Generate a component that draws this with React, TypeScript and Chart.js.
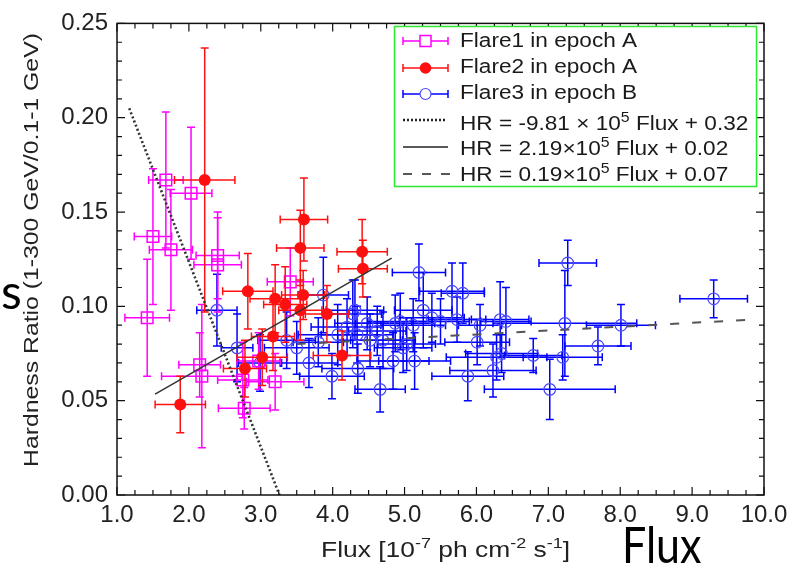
import React, { useEffect, useRef } from 'react';
import { Chart, registerables } from 'chart.js';
Chart.register(...registerables);

// ---------- DATA ----------
const flare1X = [1.68, 2.03, 1.50, 1.75, 2.40, 2.40, 1.42, 2.15, 2.18, 2.77, 2.75, 2.97, 3.20, 3.41];
const flare1Y = [0.167, 0.160, 0.137, 0.130, 0.127, 0.122, 0.094, 0.069, 0.063, 0.046, 0.061, 0.071, 0.060, 0.113];
const flare1XErr = [0.24, 0.29, 0.26, 0.30, 0.30, 0.33, 0.31, 0.29, 0.56, 0.36, 0.35, 0.30, 0.40, 0.32];
const flare1YErr = [0.036, 0.035, 0.036, 0.032, 0.023, 0.025, 0.031, 0.017, 0.038, 0.011, 0.020, 0.015, 0.015, 0.018];

const flare2X = [2.22, 3.60, 3.55, 4.41, 4.42, 1.88, 2.82, 3.20, 3.34, 3.59, 3.55, 3.92, 3.17, 3.02, 2.78, 4.13];
const flare2Y = [0.167, 0.146, 0.131, 0.129, 0.120, 0.048, 0.108, 0.104, 0.101, 0.106, 0.098, 0.096, 0.084, 0.073, 0.067, 0.074];
const flare2XErr = [0.42, 0.33, 0.33, 0.35, 0.34, 0.35, 0.35, 0.35, 0.30, 0.30, 0.30, 0.30, 0.30, 0.35, 0.30, 0.40];
const flare2YErr = [0.070, 0.022, 0.020, 0.017, 0.015, 0.015, 0.020, 0.018, 0.020, 0.013, 0.016, 0.015, 0.018, 0.015, 0.015, 0.013];

const flare3X = [2.39, 2.67, 2.99, 3.36, 3.50, 3.67, 3.99, 4.35, 4.66, 4.84, 4.28, 4.70, 3.87, 5.20, 7.27, 9.30,
  5.66, 5.81, 5.26, 7.23, 8.01, 7.69, 7.20, 6.79, 7.02, 5.88, 6.23, 6.28, 6.35, 6.01, 6.33, 6.41, 6.05, 5.14,
  5.38, 5.73, 5.03, 4.94, 4.31, 4.34, 4.07, 4.52, 4.87, 4.98, 4.20, 4.48, 4.62, 5.12, 5.50, 3.80];
const flare3Y = [0.098, 0.078, 0.070, 0.082, 0.078, 0.070, 0.063, 0.067, 0.056, 0.071, 0.096, 0.082, 0.106, 0.118, 0.123, 0.104,
  0.108, 0.107, 0.098, 0.091, 0.090, 0.079, 0.073, 0.074, 0.056, 0.063, 0.066, 0.073, 0.075, 0.081, 0.093, 0.092, 0.090, 0.071,
  0.094, 0.093, 0.080, 0.092, 0.098, 0.085, 0.085, 0.082, 0.091, 0.078, 0.089, 0.091, 0.087, 0.090, 0.092, 0.081];
const flare3XErr = [0.28, 0.22, 0.30, 0.40, 0.45, 0.40, 0.45, 0.50, 0.35, 0.50, 0.40, 0.45, 0.35, 0.37, 0.40, 0.47,
  0.45, 0.30, 0.40, 1.00, 0.48, 0.46, 0.55, 0.40, 0.91, 0.50, 0.60, 0.70, 0.50, 0.45, 0.40, 0.35, 0.30, 0.50,
  0.45, 0.40, 0.40, 0.45, 0.40, 0.50, 0.55, 0.45, 0.55, 0.40, 0.50, 0.45, 0.40, 0.45, 0.40, 0.35];
const flare3YErr = [0.019, 0.018, 0.015, 0.015, 0.014, 0.013, 0.012, 0.013, 0.012, 0.015, 0.018, 0.015, 0.020, 0.015, 0.012, 0.010,
  0.015, 0.016, 0.020, 0.028, 0.011, 0.010, 0.012, 0.009, 0.016, 0.013, 0.014, 0.012, 0.010, 0.012, 0.020, 0.018, 0.011, 0.015,
  0.013, 0.012, 0.014, 0.015, 0.016, 0.015, 0.016, 0.014, 0.015, 0.013, 0.015, 0.014, 0.013, 0.014, 0.012, 0.013];

// fit lines: endpoints
const dottedFitX = [1.17, 3.26];
const dottedFitY = [0.205, 0.0];
const solidFitX = [1.53, 4.82];
const solidFitY = [0.0535, 0.1256];
const dashedFitX = [3.5, 9.85];
const dashedFitY = [0.080, 0.093];

const xTickValues = [1, 2, 3, 4, 5, 6, 7, 8, 9, 10];
const yTickValues = [0, 0.05, 0.1, 0.15, 0.2, 0.25];

const legendLabels = ['Flare1 in epoch A', 'Flare2 in epoch A', 'Flare3 in epoch B'];
const fitLabels = [
  [{ t: 'HR = -9.81 \u00d7 10' }, { t: '5', sup: true }, { t: ' Flux + 0.32' }],
  [{ t: 'HR = 2.19\u00d710' }, { t: '5', sup: true }, { t: ' Flux + 0.02' }],
  [{ t: 'HR = 0.19\u00d710' }, { t: '5', sup: true }, { t: ' Flux + 0.07' }],
];
const yTitle = 'Hardness Ratio (1-300 GeV/0.1-1 GeV)';
const xTitle = [{ t: 'Flux [10' }, { t: '-7', sup: true }, { t: ' ph cm' }, { t: '-2', sup: true }, { t: ' s' }, { t: '-1', sup: true }, { t: ']' }];

const FONT = '"Liberation Sans", Arial, Helvetica, sans-serif';
const MAGENTA = '#ff00ff';
const RED = '#ff1010';
const BLUE = '#0000ff';

type Seg = { t: string; sup?: boolean };

function richWidth(ctx: CanvasRenderingContext2D, segs: Seg[], size: number, sx: number) {
  let w = 0;
  for (const s of segs) {
    ctx.font = `${s.sup ? Math.round(size * 0.68) : size}px ${FONT}`;
    w += ctx.measureText(s.t).width * sx;
  }
  return w;
}
function drawRich(ctx: CanvasRenderingContext2D, segs: Seg[], x: number, y: number, size: number, sx: number) {
  let cx = x;
  for (const s of segs) {
    const fs = s.sup ? Math.round(size * 0.68) : size;
    ctx.font = `${fs}px ${FONT}`;
    ctx.save();
    ctx.translate(cx, s.sup ? y - size * 0.42 : y);
    ctx.scale(sx, 1);
    ctx.fillText(s.t, 0, 0);
    ctx.restore();
    cx += ctx.measureText(s.t).width * sx;
  }
  return cx - x;
}

function errBarSymbol(ctx: CanvasRenderingContext2D, x0: number, x1: number, y: number, color: string) {
  ctx.strokeStyle = color;
  ctx.lineWidth = 1.5;
  ctx.beginPath();
  ctx.moveTo(x0, y); ctx.lineTo(x1, y);
  ctx.moveTo(x0, y - 4); ctx.lineTo(x0, y + 4);
  ctx.moveTo(x1, y - 4); ctx.lineTo(x1, y + 4);
  ctx.stroke();
}

const errorBarPlugin = {
  id: 'errorBars',
  beforeDatasetDraw(chart: any, args: any) {
    const ds = chart.data.datasets[args.index];
    if (!ds.errX) return;
    const { ctx, chartArea } = chart;
    const xs = chart.scales.x, ys = chart.scales.y;
    ctx.save();
    ctx.beginPath();
    ctx.rect(chartArea.left, chartArea.top, chartArea.right - chartArea.left, chartArea.bottom - chartArea.top);
    ctx.clip();
    ctx.strokeStyle = ds.barColor;
    ctx.lineWidth = 1.5;
    ds.data.forEach((p: any, i: number) => {
      const px = xs.getPixelForValue(p.x), py = ys.getPixelForValue(p.y);
      const x0 = xs.getPixelForValue(p.x - ds.errX[i]), x1 = xs.getPixelForValue(p.x + ds.errX[i]);
      const y0 = ys.getPixelForValue(p.y - ds.errY[i]), y1 = ys.getPixelForValue(p.y + ds.errY[i]);
      const c = 4;
      ctx.beginPath();
      ctx.moveTo(x0, py); ctx.lineTo(x1, py);
      ctx.moveTo(x0, py - c); ctx.lineTo(x0, py + c);
      ctx.moveTo(x1, py - c); ctx.lineTo(x1, py + c);
      ctx.moveTo(px, y0); ctx.lineTo(px, y1);
      ctx.moveTo(px - c, y0); ctx.lineTo(px + c, y0);
      ctx.moveTo(px - c, y1); ctx.lineTo(px + c, y1);
      ctx.stroke();
    });
    ctx.restore();
  },
};

const framePlugin = {
  id: 'frameAndDecor',
  afterDatasetsDraw(chart: any) {
    const { ctx, chartArea: a } = chart;
    const xs = chart.scales.x, ys = chart.scales.y;
    ctx.save();
    // frame
    ctx.strokeStyle = '#111';
    ctx.lineWidth = 1.5;
    ctx.strokeRect(a.left, a.top, a.right - a.left, a.bottom - a.top);
    // ticks
    ctx.lineWidth = 1.2;
    ctx.beginPath();
    for (let i = 0; i <= 36; i++) {
      const v = 1 + i * 0.25;
      const px = xs.getPixelForValue(v);
      const len = i % 4 === 0 ? 8 : 5;
      ctx.moveTo(px, a.bottom); ctx.lineTo(px, a.bottom - len);
      ctx.moveTo(px, a.top); ctx.lineTo(px, a.top + len);
    }
    for (let i = 0; i <= 25; i++) {
      const v = i * 0.01;
      const py = ys.getPixelForValue(v);
      const len = i % 5 === 0 ? 8 : 5;
      ctx.moveTo(a.left, py); ctx.lineTo(a.left + len, py);
      ctx.moveTo(a.right, py); ctx.lineTo(a.right - len, py);
    }
    ctx.stroke();

    // legend box
    const lx = 394.5, ly = 26.5, lw = 362, lh = 160;
    ctx.fillStyle = '#fff';
    ctx.fillRect(lx, ly, lw, lh);
    ctx.strokeStyle = '#2ee82e';
    ctx.lineWidth = 1.5;
    ctx.strokeRect(lx, ly, lw, lh);

    const symY = [41, 68, 94, 120, 147, 174];
    const txtY = [47, 73, 99, 130, 155, 181];
    const sx0 = 403, sx1 = 448, sc = 425.5, tx = 460;
    // flare 1
    errBarSymbol(ctx, sx0, sx1, symY[0], MAGENTA);
    ctx.fillStyle = '#fff';
    ctx.fillRect(sc - 5.5, symY[0] - 5.5, 11, 11);
    ctx.strokeStyle = MAGENTA; ctx.lineWidth = 1.5;
    ctx.strokeRect(sc - 5.5, symY[0] - 5.5, 11, 11);
    // flare 2
    errBarSymbol(ctx, sx0, sx1, symY[1], RED);
    ctx.fillStyle = RED;
    ctx.beginPath(); ctx.arc(sc, symY[1], 5.8, 0, Math.PI * 2); ctx.fill();
    // flare 3
    errBarSymbol(ctx, sx0, sx1, symY[2], BLUE);
    ctx.fillStyle = '#fff';
    ctx.beginPath(); ctx.arc(sc, symY[2], 5.5, 0, Math.PI * 2); ctx.fill();
    ctx.strokeStyle = '#4848ff'; ctx.lineWidth = 1.2;
    ctx.beginPath(); ctx.arc(sc, symY[2], 5.5, 0, Math.PI * 2); ctx.stroke();
    // dotted
    ctx.strokeStyle = '#222';
    ctx.lineWidth = 2.5; ctx.setLineDash([2, 2]);
    ctx.beginPath(); ctx.moveTo(sx0, symY[3]); ctx.lineTo(446, symY[3]); ctx.stroke();
    // solid
    ctx.setLineDash([]); ctx.lineWidth = 1.3;
    ctx.beginPath(); ctx.moveTo(sx0, symY[4]); ctx.lineTo(sx1, symY[4]); ctx.stroke();
    // dashed
    ctx.setLineDash([9, 10]); ctx.lineWidth = 1.5;
    ctx.beginPath(); ctx.moveTo(sx0, symY[5]); ctx.lineTo(450, symY[5]); ctx.stroke();
    ctx.setLineDash([]);

    ctx.fillStyle = '#1a1a1a';
    ctx.textBaseline = 'alphabetic';
    ctx.textAlign = 'left';
    legendLabels.forEach((t, i) => drawRich(ctx, [{ t }], tx, txtY[i], 20, 1.13));
    fitLabels.forEach((segs, i) => drawRich(ctx, segs, tx, txtY[i + 3], 20, 1.13));

    // y title
    ctx.fillStyle = '#222';
    ctx.save();
    ctx.translate(38, 250);
    ctx.rotate(-Math.PI / 2);
    const yw = richWidth(ctx, [{ t: yTitle }], 21, 1.18);
    drawRich(ctx, [{ t: yTitle }], -yw / 2, 0, 21, 1.18);
    ctx.restore();

    // x title
    drawRich(ctx, xTitle, 321, 557, 22, 1.2);

    // overlay annotations
    ctx.fillStyle = '#000';
    ctx.font = '48px Lato, "Open Sans", sans-serif';
    ctx.fillText('s', 1, 309);
    ctx.save();
    ctx.translate(622, 563);
    ctx.scale(0.86, 1);
    ctx.font = '50px Lato, "Open Sans", sans-serif';
    ctx.fillText('Flux', 0, 0);
    ctx.restore();
    ctx.restore();
  },
};

function pts(xs: number[], ys: number[]) {
  return xs.map((x, i) => ({ x, y: ys[i] }));
}

export default function App() {
  const ref = useRef<HTMLCanvasElement>(null);
  useEffect(() => {
    if (!ref.current) return;
    const tickFont = { family: FONT, size: 24 };
    const chart = new Chart(ref.current, {
      type: 'scatter',
      data: {
        datasets: [
          { type: 'line', data: pts(dottedFitX, dottedFitY), borderColor: '#333', borderWidth: 2.6, borderDash: [2, 2.4], pointRadius: 0, order: 0, fill: false } as any,
          { type: 'line', data: pts(solidFitX, solidFitY), borderColor: '#333', borderWidth: 1.5, pointRadius: 0, order: 0, fill: false } as any,
          { type: 'line', data: pts(dashedFitX, dashedFitY), borderColor: '#555', borderWidth: 2, borderDash: [9, 13], pointRadius: 0, order: 0, fill: false } as any,
          {
            label: legendLabels[1], data: pts(flare2X, flare2Y), errX: flare2XErr, errY: flare2YErr, barColor: RED,
            pointStyle: 'circle', pointRadius: 6, backgroundColor: RED, borderColor: RED, borderWidth: 0, order: 1,
          } as any,
          {
            label: legendLabels[0], data: pts(flare1X, flare1Y), errX: flare1XErr, errY: flare1YErr, barColor: MAGENTA,
            pointStyle: 'rect', pointRadius: 8.2, backgroundColor: 'rgba(0,0,0,0)', borderColor: MAGENTA, borderWidth: 1.5, order: 2,
          } as any,
          {
            label: legendLabels[2], data: pts(flare3X, flare3Y), errX: flare3XErr, errY: flare3YErr, barColor: BLUE,
            pointStyle: 'circle', pointRadius: 5.8, backgroundColor: 'rgba(0,0,0,0)', borderColor: '#4848ff', borderWidth: 1.2, order: 3,
          } as any,
        ],
      },
      options: {
        animation: false,
        responsive: true,
        maintainAspectRatio: false,
        layout: { padding: { top: 20, right: 41, left: 0, bottom: 0 } },
        plugins: { legend: { display: false }, tooltip: { enabled: false } },
        scales: {
          x: {
            type: 'linear', min: 1, max: 10,
            afterFit: (s: any) => { s.height = 76; },
            afterBuildTicks: (s: any) => { s.ticks = xTickValues.map((v) => ({ value: v })); },
            ticks: { callback: (v: any) => Number(v).toFixed(1), font: tickFont, color: '#222', padding: 6, maxRotation: 0, autoSkip: false },
            grid: { display: false, drawTicks: false },
            border: { display: false },
          },
          y: {
            type: 'linear', min: 0, max: 0.25,
            afterFit: (s: any) => { s.width = 117; },
            afterBuildTicks: (s: any) => { s.ticks = yTickValues.map((v) => ({ value: v })); },
            ticks: { callback: (v: any) => Number(v).toFixed(2), font: tickFont, color: '#222', padding: 9, autoSkip: false },
            grid: { display: false, drawTicks: false },
            border: { display: false },
          },
        },
      } as any,
      plugins: [errorBarPlugin, framePlugin],
    });
    return () => chart.destroy();
  }, []);
  return (
    <div style={{ position: 'absolute', left: 0, top: 0, width: 805, height: 571 }}>
      <canvas ref={ref} />
    </div>
  );
}
